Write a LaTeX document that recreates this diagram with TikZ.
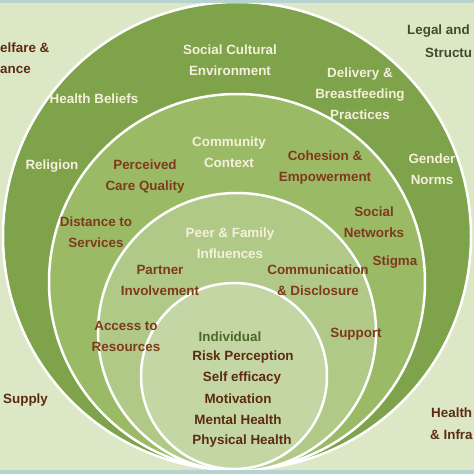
\documentclass[tikz,border=0pt]{standalone}
\usepackage{fontspec}
\setmainfont{Liberation Sans}
\usepackage{tikz}
\usetikzlibrary{positioning}

\definecolor{bgsage}{HTML}{DCE7C5}
\definecolor{edgeteal}{HTML}{B6D3CF}
\definecolor{ringone}{HTML}{7EA34A}
\definecolor{ringtwo}{HTML}{9BBA66}
\definecolor{ringthree}{HTML}{B0C987}
\definecolor{ringfour}{HTML}{C3D6A3}
\definecolor{creamtxt}{HTML}{F4F0DC}
\definecolor{rusttxt}{HTML}{7E3A1C}
\definecolor{darkbrown}{HTML}{5C2B12}
\definecolor{leafgreen}{HTML}{4B6A28}
\definecolor{mossgrey}{HTML}{3E4E2C}

\begin{document}
\begin{tikzpicture}[
        x=1pt, y=-1pt,
        lbl/.style={inner sep=0pt, align=center, font=\fontsize{13.4}{21}\selectfont\bfseries},
        light/.style={lbl, text=creamtxt},
        rust/.style={lbl, text=rusttxt},
        item/.style={lbl, text=darkbrown},
        ring/.style={draw=white, line width=2.5pt}
    ]
        \useasboundingbox (0,0) rectangle (474,474);
        \clip (0,0) rectangle (474,474);
        \fill[bgsage] (0,0) rectangle (474,474);

        % nested circles, outer to inner
        \filldraw[ring, fill=ringone]   (237,236) circle [radius=234pt];
        \filldraw[ring, fill=ringtwo]   (237,282) circle [radius=188pt];
        \filldraw[ring, fill=ringthree] (237,332) circle [radius=139pt];
        \filldraw[ring, fill=ringfour]  (234,376) circle [radius=93pt];

        \fill[edgeteal] (0,0) rectangle (474,3);
        \fill[edgeteal] (0,470) rectangle (474,474);

        % social cultural environment
        \node[light] (socenv) at (230,60) {Social Cultural\\Environment};
        \node[light] (beliefs) at (94,99) {Health Beliefs};
        \node[light] (religion) at (52,166) {Religion};
        \node[light] (delivery) at (360,94) {Delivery \&\\Breastfeeding\\Practices};
        \node[light] (gender) at (432,169) {Gender\\Norms};

        % community context
        \node[light] (community) at (229,152) {Community\\Context};
        \node[rust] (quality) at (145,177) {Perceived\\Care Quality};
        \node[rust] (cohesion) at (325,168) {Cohesion \&\\Empowerment};
        \node[rust] (distance) at (96,232) {Distance to\\Services};
        \node[rust] (networks) at (374,222) {Social\\Networks};
        \node[rust] (stigma) at (395,262) {Stigma};

        % peer and family
        \node[light] (peer) at (230,243) {Peer \& Family\\Influences};
        \node[rust] (partner) at (160,280) {Partner\\Involvement};
        \node[rust] (disclosure) at (318,280) {Communication\\\& Disclosure};
        \node[rust] (access) at (126,336) {Access to\\Resources};
        \node[rust] (support) at (356,334) {Support};

        % individual
        \node[lbl, text=leafgreen] (individual) at (230,337) {Individual};
        \node[item] (risk) at (243,357) {Risk Perception};
        \node[item] (efficacy) at (242,378) {Self efficacy};
        \node[item] (motivation) at (238,399) {Motivation};
        \node[item] (mental) at (238,420) {Mental Health};
        \node[item] (physical) at (242,441) {Physical Health};

        % outside the circles
        \node[item, align=left, anchor=west] (welfare) at (0,58) {elfare \&\\ance};
        \node[lbl, text=mossgrey, anchor=west] (legal) at (407,31) {Legal and};
        \node[lbl, text=mossgrey, anchor=west] (structu) at (425,53) {Structu};
        \node[item, anchor=west] (supply) at (3,400) {Supply};
        \node[item, anchor=west] (health) at (431,413) {Health};
        \node[item, anchor=west] (infra) at (430,435) {\& Infra};

    \end{tikzpicture}
\end{document}
